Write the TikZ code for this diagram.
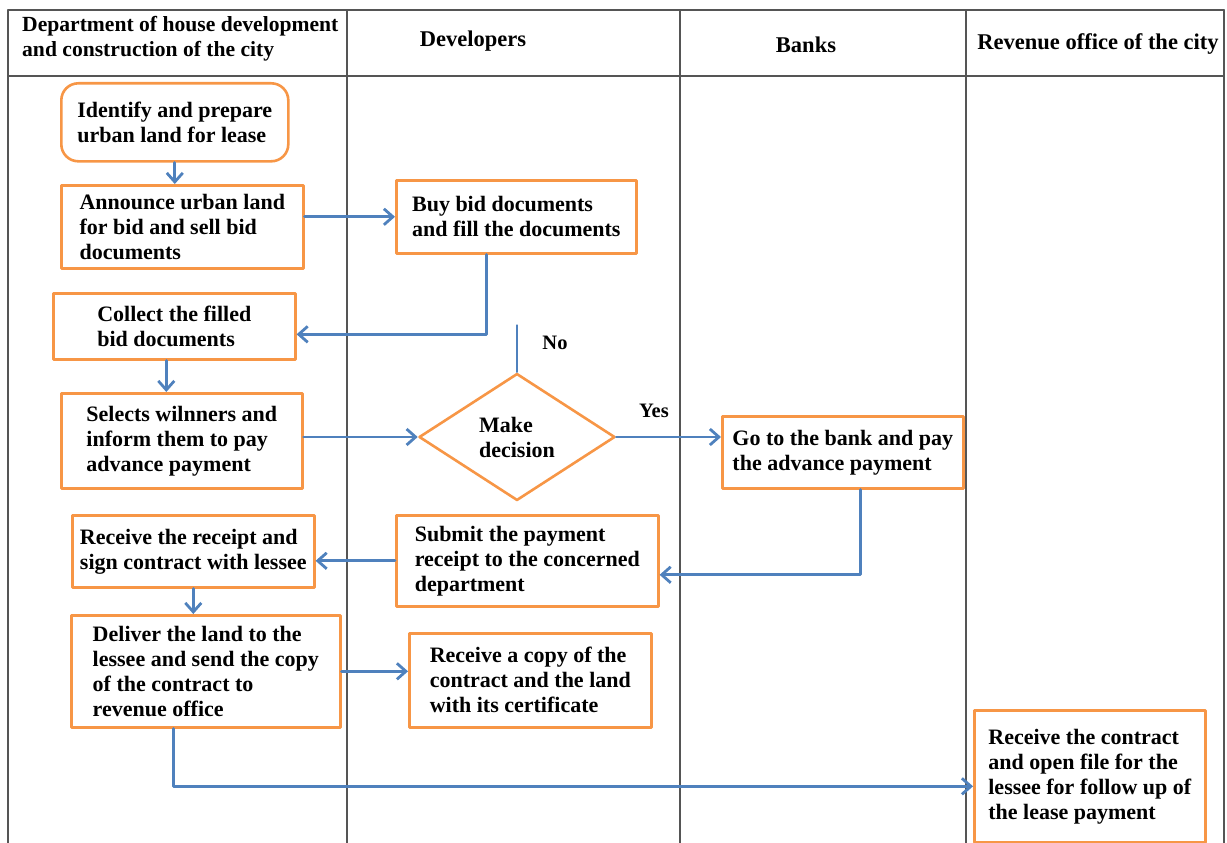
\documentclass[tikz,border=0pt]{standalone}
\usepackage{fontspec}
\setmainfont{Liberation Serif}
\usetikzlibrary{shapes.geometric, arrows.meta}

\definecolor{laneline}{HTML}{555555}
\definecolor{boxorange}{HTML}{F79646}
\definecolor{flowblue}{HTML}{4F81BD}

\begin{document}
\begin{tikzpicture}[x=1pt, y=-1pt, line cap=round, line join=round,
    lane/.style={draw=laneline, line width=1.6pt},
    head/.style={font=\fontsize{22.5}{25}\selectfont\bfseries, inner sep=0pt},
    procbox/.style={draw=boxorange, line width=2.6pt, fill=white, anchor=north west,
        align=left, font=\fontsize{22}{25}\selectfont\bfseries, inner sep=4pt},
    startbox/.style={procbox, rounded corners=17pt},
    decision/.style={diamond, aspect=1.5, draw=boxorange, line width=2.6pt, fill=white,
        align=left, font=\fontsize{22}{25}\selectfont\bfseries, inner sep=0pt,
        minimum width=196pt, minimum height=127pt},
    flow/.style={draw=flowblue, line width=2.8pt, -{Straight Barb[length=9pt, width=16pt]}},
    tag/.style={font=\fontsize{20.5}{23}\selectfont\bfseries, inner sep=0pt}
]
    \useasboundingbox (0,0) rectangle (1227,843);

    % swimlanes
    \draw[lane] (8,10) -- (1224,10);
    \draw[lane] (8,76) -- (1224,76);
    \foreach \x in {8, 347, 680, 966, 1224} {
        \draw[lane] (\x,10) -- (\x,843);
    }

    % lane headings
    \node[head, anchor=west, align=left, font=\fontsize{21.6}{25}\selectfont\bfseries] (hdept) at (22,38.5) {Department of house development\\and construction of the city};
    \node[head] (hdev) at (473,41) {Developers};
    \node[head] (hbank) at (806,45) {Banks};
    \node[head] (hrev) at (1098,44) {Revenue office of the city};

    % steps
    \node[startbox, minimum width=227pt, minimum height=78pt] (identify) at (60,82) {Identify and prepare\\urban land for lease};
    \node[procbox, minimum width=242pt, minimum height=83pt] (announce) at (60,184) {Announce urban land\\for bid and sell bid\\documents};
    \node[procbox, minimum width=240pt, minimum height=73pt] (buybid) at (395,179) {Buy bid documents\\and fill the documents};
    \node[procbox, minimum width=242pt, minimum height=66pt] (collect) at (52,292) {Collect the filled\\bid documents};
    \node[procbox, minimum width=241pt, minimum height=95pt] (selects) at (60,392) {Selects wilnners and\\inform them to pay\\advance payment};
    \node[decision] (decide) at (517,437) {Make\\decision};
    \node[procbox, minimum width=241pt, minimum height=72pt] (gobank) at (721,415) {Go to the bank and pay\\the advance payment};
    \node[procbox, minimum width=262pt, minimum height=91pt] (submit) at (395,514) {Submit the payment\\receipt to the concerned\\department};
    \node[procbox, minimum width=242pt, minimum height=72pt] (receipt) at (71,514) {Receive the receipt and\\sign contract with lessee};
    \node[procbox, minimum width=269pt, minimum height=112pt] (deliver) at (70,614) {Deliver the land to the\\lessee and send the copy\\of the contract to\\revenue office};
    \node[procbox, minimum width=242pt, minimum height=94pt] (copy) at (408,632) {Receive a copy of the\\contract and the land\\with its certificate};
    \node[procbox, minimum width=231pt, minimum height=132pt] (openfile) at (973,709) {Receive the contract\\and open file for the\\lessee for follow up of\\the lease payment};

    % flow
    \draw[flow] (identify.south) -- (identify.south |- announce.north);
    \draw[flow] (announce.east |- buybid.west) -- (buybid.west);
    \draw[flow] ([xshift=-30pt]buybid.south) |- ([yshift=-8pt]collect.east);
    \draw[flow] ([xshift=-8pt]collect.south) -- ([xshift=-8pt]collect.south |- selects.north);
    \draw[flow] (selects.east |- decide.west) -- (decide.west);
    \coordinate (noend) at (517,325);
    \draw[flowblue, line width=1.2pt] (decide.north) -- (noend);
    \node[tag] (nolabel) at (555,343) {No};
    \draw[flow] (decide.east) -- (decide.east -| gobank.west);
    \node[tag] (yeslabel) at (654,411) {Yes};
    \draw[flow] ([xshift=18pt]gobank.south) |- ([yshift=-14pt]submit.east);
    \draw[flow] (submit.west) -- (submit.west -| receipt.east);
    \draw[flow] (receipt.south) -- (receipt.south |- deliver.north);
    \draw[flow] (deliver.east) -- (deliver.east -| copy.west);
    \draw[flow] ([xshift=-32pt]deliver.south) |- ([yshift=-10pt]openfile.west);
\end{tikzpicture}
\end{document}
